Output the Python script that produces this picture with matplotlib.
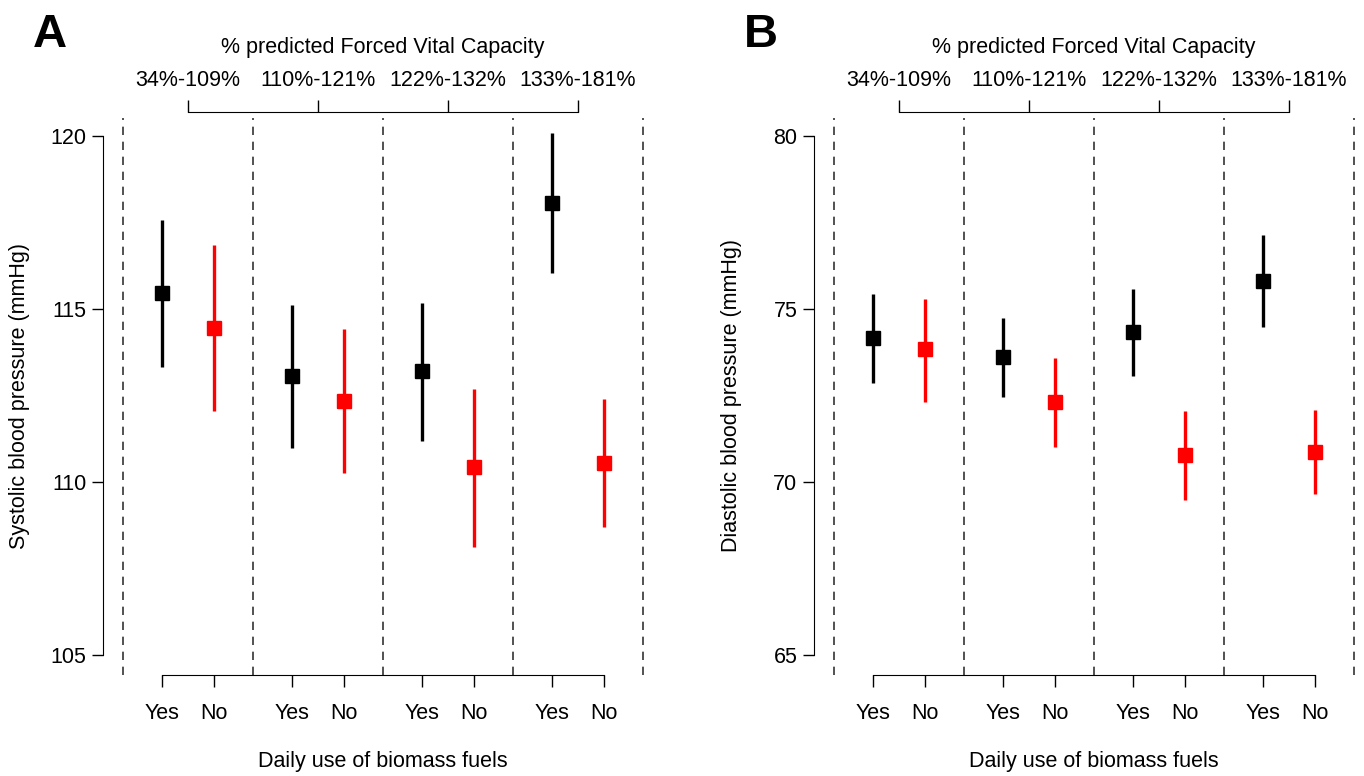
import numpy as np
import matplotlib
matplotlib.use("Agg")
import matplotlib.pyplot as plt

plt.rcParams['font.family'] = ['Liberation Sans', 'DejaVu Sans']

fvc_groups = ["34%-109%", "110%-121%", "122%-132%", "133%-181%"]
biomass_labels = ["Yes", "No"]

# panel A: systolic blood pressure (mean, lower CI, upper CI)
sbp_yes = [115.45, 113.07, 113.21, 118.05]
sbp_yes_lo = [113.31, 110.99, 111.19, 116.04]
sbp_yes_hi = [117.57, 115.11, 115.17, 120.08]
sbp_no = [114.46, 112.34, 110.43, 110.56]
sbp_no_lo = [112.05, 110.27, 108.12, 108.69]
sbp_no_hi = [116.85, 114.41, 112.70, 112.41]

# panel B: diastolic blood pressure
dbp_yes = [74.15, 73.61, 74.34, 75.82]
dbp_yes_lo = [72.85, 72.47, 73.06, 74.49]
dbp_yes_hi = [75.43, 74.75, 75.58, 77.15]
dbp_no = [73.83, 72.30, 70.77, 70.87]
dbp_no_lo = [72.32, 71.02, 69.48, 69.64]
dbp_no_hi = [75.29, 73.57, 72.04, 72.08]

W, H = 1364, 776
FS = 15.5


def panel(left_px, yes, yes_lo, yes_hi, no, no_lo, no_hi, yticks, ylabel, letter):
    fig = plt.gcf()
    ax = fig.add_axes([left_px / W, (H - 675) / H, 520 / W, 557 / H])
    step = 2.5
    xyes = np.arange(len(yes)) * step + 1
    xno = xyes + 1
    centers = xyes + 0.5
    dividers = np.append(xyes - 0.75, xno[-1] + 0.75)

    y0, y1 = yticks[0], yticks[-1]
    ppu = 519 / (y1 - y0)
    ax.set_ylim(y0 - 20 / ppu, y1 + 18 / ppu)
    ax.set_xlim(dividers[0], dividers[-1])

    for d in dividers:
        ax.axvline(d, color='#333333', lw=1.2, ls=(0, (5, 4)), clip_on=False)

    for x, m, lo, hi, col in [(xyes, yes, yes_lo, yes_hi, 'black'), (xno, no, no_lo, no_hi, '#ff0000')]:
        m = np.array(m)
        ax.errorbar(x, m, yerr=[m - np.array(lo), np.array(hi) - m], fmt='s', color=col,
                    ms=10, elinewidth=2.4, capsize=0, zorder=3)

    for s in ['top', 'right']:
        ax.spines[s].set_visible(False)
    ax.spines['left'].set_position(('outward', 14.4))
    ax.spines['left'].set_bounds(y0, y1)
    ax.spines['bottom'].set_bounds(xyes[0], xno[-1])
    ax.set_yticks(yticks)
    ax.set_yticklabels([str(t) for t in yticks], fontsize=FS)
    ticks = np.sort(np.concatenate([xyes, xno]))
    ax.set_xticks(ticks)
    ax.set_xticklabels(biomass_labels * len(yes), fontsize=FS)
    ax.tick_params(axis='y', length=8, width=1, pad=4)
    ax.tick_params(axis='x', length=8.5, width=1, pad=12)

    top = ax.twiny()
    top.set_xlim(ax.get_xlim())
    for s in ['bottom', 'left', 'right']:
        top.spines[s].set_visible(False)
    top.spines['top'].set_position(('outward', 4))
    top.spines['top'].set_bounds(centers[0], centers[-1])
    top.set_xticks(centers)
    top.set_xticklabels(fvc_groups, fontsize=FS)
    top.tick_params(axis='x', length=8.5, width=1, pad=7)

    mid = (left_px + 260) / W
    fig.text(mid, 1 - 47 / H, "% predicted Forced Vital Capacity", fontsize=FS,
             ha='center', va='center')
    fig.text(mid, 1 - 762 / H, "Daily use of biomass fuels", fontsize=FS,
             ha='center', va='center')
    fig.text((left_px - 103) / W, 1 - 396 / H, ylabel, fontsize=FS, rotation=90,
             ha='center', va='center')
    fig.text((left_px - 73) / W, 1 - 35 / H, letter, fontsize=34, fontweight='bold',
             ha='center', va='center')


fig = plt.figure(figsize=(W / 100, H / 100), dpi=100)
panel(123, sbp_yes, sbp_yes_lo, sbp_yes_hi, sbp_no, sbp_no_lo, sbp_no_hi,
      [105, 110, 115, 120], "Systolic blood pressure (mmHg)", "A")
panel(834, dbp_yes, dbp_yes_lo, dbp_yes_hi, dbp_no, dbp_no_lo, dbp_no_hi,
      [65, 70, 75, 80], "Diastolic blood pressure (mmHg)", "B")

fig.savefig("out.png", dpi=100)
